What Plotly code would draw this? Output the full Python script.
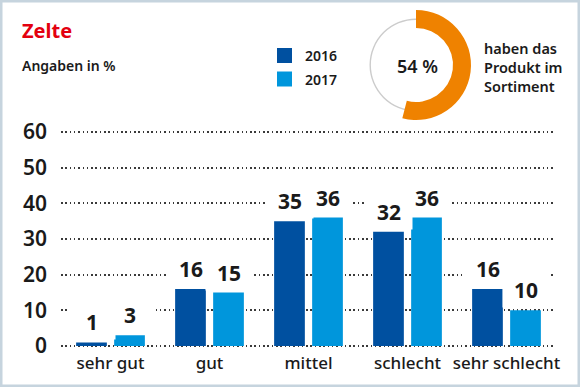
import plotly.graph_objects as go

# ---- data ----
categories = ["sehr gut", "gut", "mittel", "schlecht", "sehr schlecht"]
years = ["2016", "2017"]
values_2016 = [1, 16, 35, 32, 16]
values_2017 = [3, 15, 36, 36, 10]
y_ticks = [0, 10, 20, 30, 40, 50, 60]
share_value = 54
title_text = "Zelte"
subtitle_text = "Angaben in %"
side_text = ["haben das", "Produkt im", "Sortiment"]

# ---- styles ----
W, H = 580, 387
FONT = "Noto Sans"
TXT = "#1a1a1a"
C2016 = "#0050a0"
C2017 = "#0096dc"
ORANGE = "#ef8200"
RED = "#e3000f"

def px_x(x):
    return x / W

def px_y(y):  # y from top in px -> paper
    return 1 - y / H

pad = 0.6  # value units of padding so edge gridlines are drawn
px_per_unit = (346 - 132) / 60
plot_left, plot_right = 61, 556
plot_top, plot_bottom = 132 - pad * px_per_unit, 346 + pad * px_per_unit

fig = go.Figure()
series = [(years[0], values_2016, C2016), (years[1], values_2017, C2017)]
for name, vals, col in series:
    fig.add_trace(go.Bar(
        x=categories, y=vals, name=name, marker=dict(color=col, line=dict(width=0)),
        hoverinfo="skip", showlegend=False,
    ))

# value labels with white boxes
slot_half = 19
annotations = []
for i, (name, vals, col) in enumerate(series):
    shift = -slot_half if i == 0 else slot_half
    for c, v in zip(categories, vals):
        annotations.append(dict(
            x=c, y=v, xref="x", yref="y", xshift=shift, yshift=2,
            text=str(v), showarrow=False, xanchor="center", yanchor="bottom",
            width=44, height=33, bgcolor="white", valign="middle",
            font=dict(family=FONT, size=21, color=TXT, weight=700),
        ))

# title / subtitle
annotations.append(dict(x=px_x(20), y=px_y(31), xref="paper", yref="paper", text=title_text,
                        showarrow=False, xanchor="left", yanchor="middle",
                        font=dict(family=FONT, size=20, color=RED, weight=700)))
annotations.append(dict(x=px_x(20), y=px_y(65), xref="paper", yref="paper", text=subtitle_text,
                        showarrow=False, xanchor="left", yanchor="middle",
                        font=dict(family=FONT, size=14, color=TXT, weight=600)))

# manual legend
shapes = []
for k, (name, vals, col) in enumerate(series):
    yc = 55.5 + k * 23.5
    shapes.append(dict(type="rect", xref="paper", yref="paper",
                       x0=px_x(277), x1=px_x(292), y0=px_y(yc - 7.5), y1=px_y(yc + 7.5),
                       fillcolor=col, line=dict(width=0)))
    annotations.append(dict(x=px_x(303), y=px_y(yc), xref="paper", yref="paper", text=name,
                            showarrow=False, xanchor="left", yanchor="middle",
                            font=dict(family=FONT, size=14, color=TXT, weight=600)))

# donut
cx, cy = 416, 65
r_out, r_in, r_ring = 55, 37, 46.5
fig.add_trace(go.Pie(
    values=[1], marker=dict(colors=["#cccccc"], line=dict(width=0)),
    hole=(r_ring - 1.4) / r_ring, sort=False, textinfo="none", hoverinfo="skip", showlegend=False,
    domain=dict(x=[px_x(cx - r_ring), px_x(cx + r_ring)], y=[px_y(cy + r_ring), px_y(cy - r_ring)]),
))
fig.add_trace(go.Pie(
    values=[share_value, 100 - share_value],
    marker=dict(colors=[ORANGE, "rgba(0,0,0,0)"], line=dict(width=0)),
    hole=r_in / r_out, sort=False, direction="clockwise", rotation=0,
    textinfo="none", hoverinfo="skip", showlegend=False,
    domain=dict(x=[px_x(cx - r_out), px_x(cx + r_out)], y=[px_y(cy + r_out), px_y(cy - r_out)]),
))
annotations.append(dict(x=px_x(cx + 1), y=px_y(cy + 1), xref="paper", yref="paper",
                        text=f"{share_value} %", showarrow=False, xanchor="center", yanchor="middle",
                        font=dict(family=FONT, size=18, color=TXT, weight=600)))
annotations.append(dict(x=px_x(482), y=px_y(67), xref="paper", yref="paper",
                        text="<br>".join(side_text), showarrow=False, xanchor="left", yanchor="middle",
                        align="left",
                        font=dict(family=FONT, size=14.5, color=TXT, weight=600)))

# border
shapes.append(dict(type="rect", xref="paper", yref="paper", x0=0, x1=1, y0=0, y1=1,
                   line=dict(color="#c6d4de", width=5), fillcolor="rgba(0,0,0,0)", layer="above"))

fig.update_layout(
    width=W, height=H, margin=dict(l=0, r=0, t=0, b=0, autoexpand=False),
    paper_bgcolor="white", plot_bgcolor="white",
    barmode="group", bargap=0.232, bargroupgap=0.192,
    showlegend=False, annotations=annotations, shapes=shapes,
    xaxis=dict(domain=[px_x(plot_left), px_x(plot_right)], range=[-0.5, 4.5],
               showgrid=False, zeroline=False, showline=False, ticks="",
               tickfont=dict(family=FONT, size=17, color=TXT, weight=500),
               ticklabelstandoff=3, fixedrange=True),
    yaxis=dict(domain=[px_y(plot_bottom), px_y(plot_top)], range=[-pad, 60 + pad],
               tickvals=y_ticks, ticktext=[str(t) for t in y_ticks],
               showgrid=True, gridcolor="#3a3a3a", gridwidth=1.5, griddash="1.5px,2.8px",
               zeroline=False, showline=False, ticks="",
               tickfont=dict(family=FONT, size=21, color=TXT, weight=600),
               ticklabelstandoff=13, fixedrange=True),
)

fig.write_html("out.html", config={"displayModeBar": False},
               post_script="document.body.style.margin='0';document.body.style.overflow='hidden';")
